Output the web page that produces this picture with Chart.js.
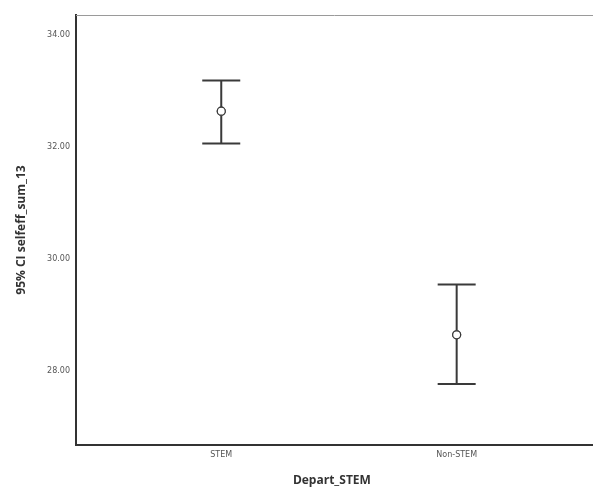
<!DOCTYPE html>
<html>
<head>
<meta charset="utf-8">
<script src="https://cdn.jsdelivr.net/npm/chart.js@4/dist/chart.umd.min.js"></script>
<style>
html,body{margin:0;padding:0;background:#fff;}
#wrap{width:593px;height:488px;}
</style>
</head>
<body>
<div id="wrap"><canvas id="c" width="593" height="488"></canvas></div>
<script>
const categories = ["STEM", "Non-STEM"];
const positions = [1, 2];
const means = [32.64, 28.64];
const upper = [33.19, 29.54];
const lower = [32.06, 27.76];
const yTicks = [28, 30, 32, 34];

const errorBars = {
  id: 'errorBars',
  afterDatasetsDraw(chart) {
    const {ctx, scales: {x, y}, chartArea} = chart;
    ctx.save();
    // top frame line
    ctx.strokeStyle = '#9a9a9a';
    ctx.lineWidth = 1;
    ctx.beginPath();
    ctx.moveTo(chartArea.left, chartArea.top + 0.5);
    ctx.lineTo(chart.width, chartArea.top + 0.5);
    ctx.stroke();
    // extend bottom axis line to the canvas edge
    ctx.strokeStyle = '#333';
    ctx.lineWidth = 2;
    ctx.beginPath();
    ctx.moveTo(chartArea.right - 1, Math.round(chartArea.bottom));
    ctx.lineTo(chart.width, Math.round(chartArea.bottom));
    ctx.stroke();
    ctx.strokeStyle = '#3a3a3a';
    ctx.lineWidth = 2;
    positions.forEach((p, i) => {
      const px = x.getPixelForValue(p);
      const yu = y.getPixelForValue(upper[i]);
      const yl = y.getPixelForValue(lower[i]);
      const half = 19;
      ctx.beginPath();
      ctx.moveTo(px, yu); ctx.lineTo(px, yl);
      ctx.moveTo(px - half, yu); ctx.lineTo(px + half, yu);
      ctx.moveTo(px - half, yl); ctx.lineTo(px + half, yl);
      ctx.stroke();
    });
    ctx.restore();
    // redraw points on top
    chart.getDatasetMeta(0).controller.draw();
  }
};

new Chart(document.getElementById('c'), {
  type: 'scatter',
  data: {
    datasets: [{
      data: positions.map((p, i) => ({x: p, y: means[i]})),
      pointRadius: 4,
      pointBackgroundColor: '#ffffff',
      pointBorderColor: '#3a3a3a',
      pointBorderWidth: 1.2
    }]
  },
  options: {
    responsive: false,
    animation: false,
    layout: {padding: {top: 15, right: 0, left: 0, bottom: 0}},
    plugins: {legend: {display: false}, tooltip: {enabled: false}},
    scales: {
      x: {
        type: 'linear',
        min: 0.383,
        max: 2.557,
        afterBuildTicks: (s) => { s.ticks = positions.map(v => ({value: v})); },
        afterFit: (s) => { s.height = 43; },
        grid: {display: false, drawTicks: true, tickLength: 4, color: '#444'},
        border: {display: true, color: '#333', width: 2},
        ticks: {
          callback: (v) => { const i = positions.indexOf(v); return i >= 0 ? categories[i] : ''; },
          font: {family: 'DejaVu Sans', size: 8},
          color: '#555',
          padding: 1,
          maxRotation: 0
        },
        title: {
          display: true,
          text: 'Depart_STEM',
          font: {family: 'Open Sans', size: 12, weight: 'bold'},
          color: '#333',
          padding: {top: 4, bottom: 0}
        }
      },
      y: {
        min: 26.67,
        max: 34.36,
        afterBuildTicks: (s) => { s.ticks = yTicks.map(v => ({value: v})); },
        afterFit: (s) => { s.width = 76; },
        grid: {display: false, drawTicks: true, tickLength: 4, color: '#444'},
        border: {display: true, color: '#333', width: 2},
        ticks: {
          callback: (v) => v.toFixed(2),
          font: {family: 'DejaVu Sans', size: 8},
          color: '#555',
          padding: 2
        },
        title: {
          display: true,
          text: '95% CI selfeff_sum_13',
          font: {family: 'Open Sans', size: 12, weight: 'bold'},
          color: '#333',
          padding: {top: 14, bottom: 0}
        }
      }
    }
  },
  plugins: [errorBars]
});
</script>
</body>
</html>
